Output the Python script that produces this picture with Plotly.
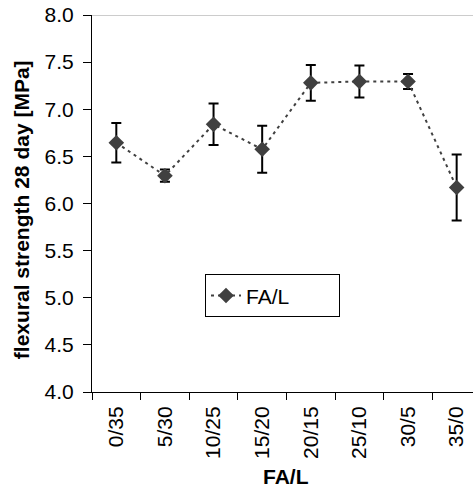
import plotly.graph_objects as go

categories = ["0/35", "5/30", "10/25", "15/20", "20/15", "25/10", "30/5", "35/0"]
strength = [6.645, 6.295, 6.84, 6.575, 7.28, 7.295, 7.295, 6.17]
error = [0.21, 0.065, 0.22, 0.25, 0.19, 0.17, 0.08, 0.35]

FONT = "Arial, 'Liberation Sans', sans-serif"

fig = go.Figure()
fig.add_trace(go.Scatter(
    x=categories, y=strength, name="FA/L", mode="lines+markers",
    line=dict(color="#404040", width=2, dash="3px,4px"),
    marker=dict(symbol="diamond", size=12, color="#404040"),
    error_y=dict(type="data", array=error, visible=True, color="black", thickness=2, width=5),
))

fig.update_layout(
    width=473, height=489,
    margin=dict(l=92, r=0, t=15, b=97),
    paper_bgcolor="white", plot_bgcolor="white",
    font=dict(family=FONT, size=20, color="black"),
    showlegend=True,
    legend=dict(x=0.2966, y=0.312, xanchor="left", yanchor="top",
                orientation="h", entrywidth=88, entrywidthmode="pixels",
                bordercolor="black", borderwidth=1, bgcolor="white",
                font=dict(size=21, family=FONT)),
    xaxis=dict(type="category", range=[-0.5, 7.336], showline=True, linecolor="black",
               linewidth=1, ticks="outside", ticklen=7, tickcolor="black",
               tickson="boundaries", tickangle=-90, showgrid=False, zeroline=False,
               ticklabelstandoff=5, tickfont=dict(size=21)),
    yaxis=dict(range=[4, 8], dtick=0.5, tickformat=".1f", showline=True, linecolor="black",
               linewidth=1, ticks="outside", ticklen=8, tickcolor="black",
               showgrid=False, zeroline=False, ticklabelstandoff=5, tickfont=dict(size=21)),
    shapes=[dict(type="line", xref="paper", yref="y", x0=0, x1=1, y0=8, y1=8,
                 line=dict(color="#999999", width=1))],
    annotations=[
        dict(text="<b>FA/L</b>", xref="paper", yref="paper", x=0.508, y=-0.223,
             showarrow=False, font=dict(size=21, family=FONT), xanchor="center", yanchor="middle"),
        dict(text="<b>flexural strength 28 day [MPa]</b>", xref="paper", yref="paper",
             x=-0.183, y=0.483, showarrow=False, textangle=-90,
             font=dict(size=21, family=FONT), xanchor="center", yanchor="middle"),
    ],
)

fig.write_html("out.html", config={"displayModeBar": False},
               post_script="document.body.style.margin='0';")
